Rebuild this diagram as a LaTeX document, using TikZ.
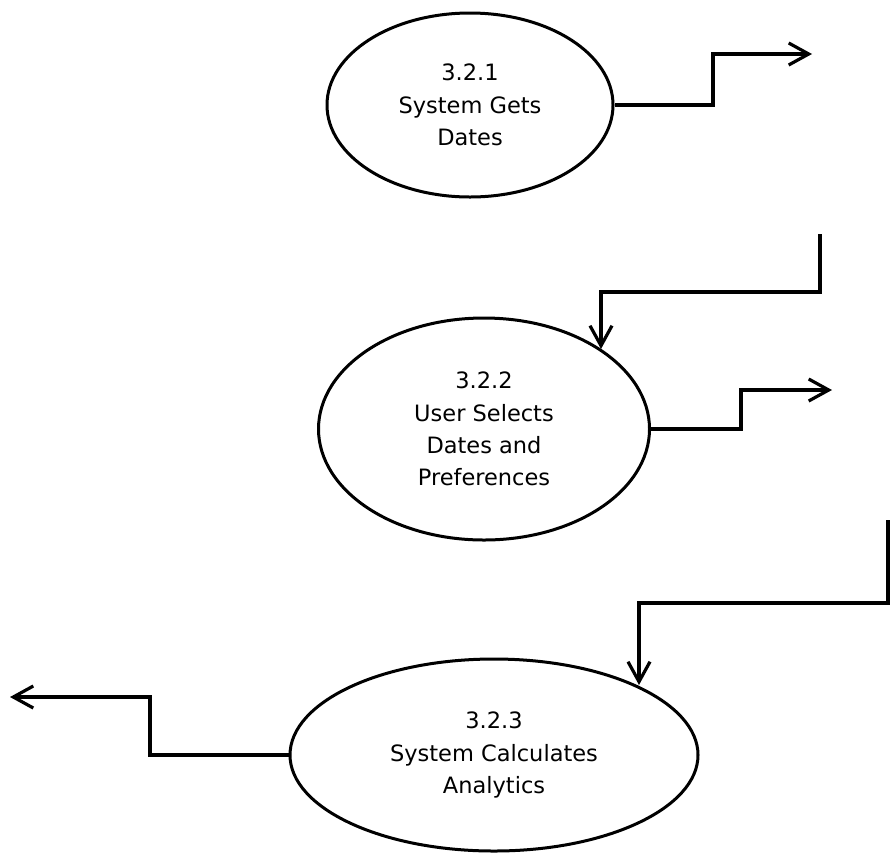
\documentclass[tikz,border=0pt]{standalone}
\usepackage{fontspec}
\setmainfont{DejaVu Sans}
\usetikzlibrary{shapes.geometric,arrows.meta}
\begin{document}
\begin{tikzpicture}[x=1pt,y=-1pt,
  proc/.style={draw=black,line width=3pt,ellipse,inner sep=0pt,align=center,
    font=\fontsize{22.5}{32.2}\selectfont},
  flow/.style={draw=black,line width=3.2pt,line join=miter,
    -{Straight Barb[length=20pt,width=22pt,line width=3.2pt]}}]
\useasboundingbox (0,0) rectangle (890,855);
\node[proc,minimum width=286pt,minimum height=184pt] (e1) at (470,105) {3.2.1\\System Gets\\Dates};
\node[proc,minimum width=331pt,minimum height=222pt] (e2) at (484,429) {3.2.2\\User Selects\\Dates and\\Preferences};
\node[proc,minimum width=408pt,minimum height=192pt] (e3) at (494,755) {3.2.3\\System Calculates\\Analytics};
% connector 1
\coordinate (k1) at (713,54);
\coordinate (t1) at (812,54);
\draw[flow] (e1.east) -| (k1) -- (t1);
% connector 2
\coordinate (s2) at (820,234);
\coordinate (k2) at (601,292);
\coordinate (t2) at (601,349);
\draw[flow] (s2) |- (k2) -- (t2);
% connector 3
\coordinate (k3) at (741,390);
\coordinate (t3) at (832,390);
\draw[flow] (e2.east) -| (k3) -- (t3);
% connector 4
\coordinate (s4) at (888,520);
\coordinate (k4) at (639,603);
\coordinate (t4) at (639,685);
\draw[flow] (s4) |- (k4) -- (t4);
% connector 5
\coordinate (k5) at (150,697);
\coordinate (t5) at (10,697);
\draw[flow] (e3.west) -| (k5) -- (t5);
\end{tikzpicture}
\end{document}
